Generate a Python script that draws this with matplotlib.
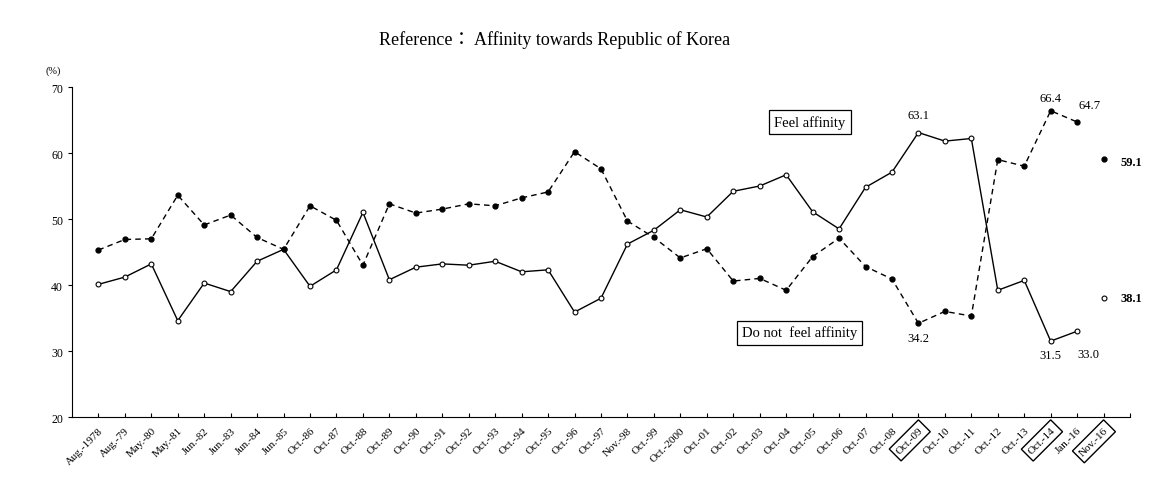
import matplotlib.pyplot as plt

# Survey labels
labels = ["Aug.-1978", "Aug.-79", "May.-80", "May.-81", "Jun.-82", "Jun.-83", "Jun.-84",
          "Jun.-85", "Oct.-86", "Oct.-87", "Oct.-88", "Oct.-89", "Oct.-90", "Oct.-91",
          "Oct.-92", "Oct.-93", "Oct.-94", "Oct.-95", "Oct.-96", "Oct.-97", "Nov.-98",
          "Oct.-99", "Oct.-2000", "Oct.-01", "Oct.-02", "Oct.-03", "Oct.-04", "Oct.-05",
          "Oct.-06", "Oct.-07", "Oct.-08", "Oct.-09", "Oct.-10", "Oct.-11", "Oct.-12",
          "Oct.-13", "Oct.-14", "Jan.-16", "Nov.-16"]

# Feel affinity (%)
feel = [40.1, 41.2, 43.2, 34.6, 40.3, 39.0, 43.6, 45.4, 39.8, 42.3, 51.0,
        40.8, 42.7, 43.2, 43.0, 43.6, 42.0, 42.3, 35.9, 38.0, 46.2, 48.3,
        51.4, 50.3, 54.2, 55.0, 56.7, 51.1, 48.5, 54.8, 57.1, 63.1, 61.8,
        62.2, 39.2, 40.7, 31.5, 33.0, 38.1]

# Do not feel affinity (%)
not_feel = [45.3, 46.9, 47.0, 53.6, 49.1, 50.6, 47.2, 45.4, 52.0, 49.8, 43.0,
            52.3, 50.9, 51.5, 52.3, 52.0, 53.2, 54.1, 60.2, 57.6, 49.7, 47.2,
            44.1, 45.5, 40.6, 41.0, 39.2, 44.3, 47.1, 42.8, 40.9, 34.2, 36.0,
            35.3, 59.0, 58.0, 66.4, 64.7, 59.1]

boxed = ["Oct.-09", "Oct.-14", "Nov.-16"]

serif = ["Liberation Serif", "Noto Sans CJK JP"]
plt.rcParams["font.family"] = serif

fig = plt.figure(figsize=(11.68, 5.02), dpi=100)
ax = fig.add_axes([0.0616, 0.1673, 0.9059, 0.6574])

x = list(range(len(labels)))
n = len(labels) - 1  # last survey drawn without connecting line

ax.plot(x[:n], feel[:n], color="black", lw=1.0, marker="o", ms=3.5,
        mfc="white", mec="black", mew=0.8)
ax.plot(x[:n], not_feel[:n], color="black", lw=1.0, ls=(0, (4, 3)), marker="o",
        ms=3.5, mfc="black", mec="black")
ax.plot(x[n], feel[n], ls="none", marker="o", ms=3.5, mfc="white", mec="black", mew=0.8)
ax.plot(x[n], not_feel[n], ls="none", marker="o", ms=3.5, mfc="black", mec="black")

ax.set_xlim(-1, len(labels))
ax.set_ylim(20, 70)
ax.set_yticks([20, 30, 40, 50, 60, 70])
ax.set_xticks(list(range(len(labels) + 1)))
ax.set_xticklabels(labels + [""], rotation=45, ha="right", rotation_mode="anchor",
                   fontsize=8)
for t in ax.get_xticklabels():
    if t.get_text() in boxed:
        t.set_bbox(dict(boxstyle="square,pad=0.35", fc="white", ec="black", lw=1.0))
ax.tick_params(axis="x", direction="in", length=3, pad=6)
ax.tick_params(axis="y", direction="out", length=3, labelsize=8.5)
for s in ["top", "right"]:
    ax.spines[s].set_visible(False)

# value annotations
i09 = labels.index("Oct.-09")
i14 = labels.index("Oct.-14")
i16 = labels.index("Jan.-16")
ax.annotate(f"{feel[i09]:.1f}", (i09, feel[i09]), xytext=(0, 8), textcoords="offset points",
            ha="center", va="bottom", fontsize=9)
ax.annotate(f"{not_feel[i09]:.1f}", (i09, not_feel[i09]), xytext=(0, -6),
            textcoords="offset points", ha="center", va="top", fontsize=9)
ax.annotate(f"{not_feel[i14]:.1f}", (i14, not_feel[i14]), xytext=(0, 5),
            textcoords="offset points", ha="center", va="bottom", fontsize=9)
ax.annotate(f"{feel[i14]:.1f}", (i14, feel[i14]), xytext=(0, -6),
            textcoords="offset points", ha="center", va="top", fontsize=9)
ax.annotate(f"{not_feel[i16]:.1f}", (i16, not_feel[i16]), xytext=(1, 8),
            textcoords="offset points", ha="left", va="bottom", fontsize=9)
ax.annotate(f"{feel[i16]:.1f}", (i16, feel[i16]), xytext=(0, -12),
            textcoords="offset points", ha="left", va="top", fontsize=9)
ax.annotate(f"{not_feel[n]:.1f}", (n, not_feel[n]), xytext=(12, -2),
            textcoords="offset points", ha="left", va="center", fontsize=9, fontweight="bold")
ax.annotate(f"{feel[n]:.1f}", (n, feel[n]), xytext=(12, 0),
            textcoords="offset points", ha="left", va="center", fontsize=9, fontweight="bold")

# series labels
box = dict(boxstyle="square,pad=0.35", fc="white", ec="black", lw=0.9)
ax.text(26.9, 64.7, "Feel affinity", ha="center", va="center", fontsize=10.5, bbox=box)
ax.text(26.5, 32.8, "Do not  feel affinity", ha="center", va="center", fontsize=10.5, bbox=box)

ax.text(-1.7, 72.5, "(%)", ha="center", va="center", fontsize=7.5)
fig.text(0.475, 0.92, "Reference： Affinity towards Republic of Korea", ha="center",
         va="center", fontsize=13, family=serif)

fig.savefig("out.png", dpi=100)
